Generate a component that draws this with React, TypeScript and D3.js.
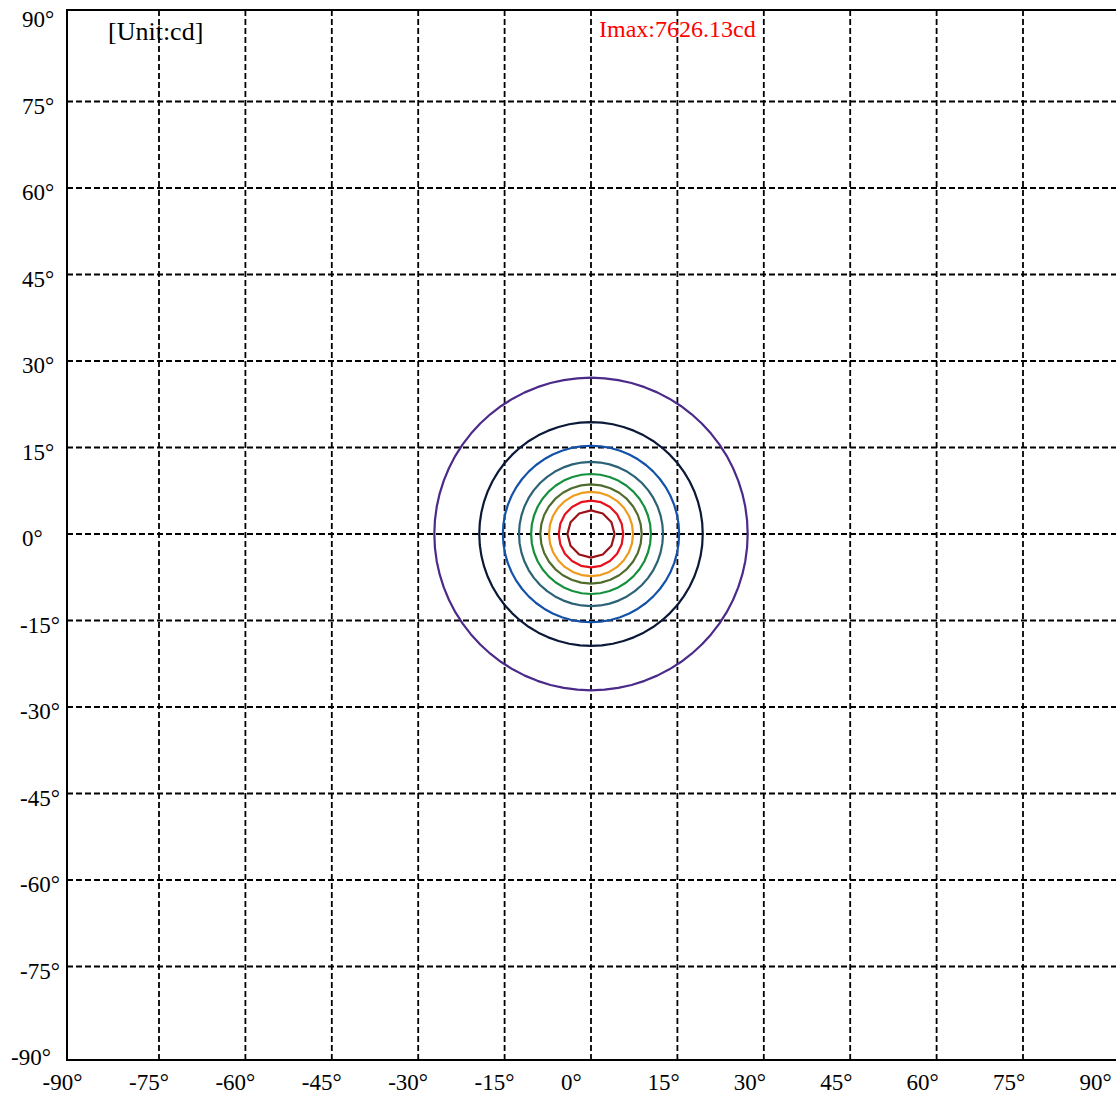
import React from "react";
import * as d3 from "d3";

// Angle ticks (degrees)
const xTicks = [-90, -75, -60, -45, -30, -15, 0, 15, 30, 45, 60, 75, 90];
const yTicks = [90, 75, 60, 45, 30, 15, 0, -15, -30, -45, -60, -75, -90];

// Iso-candela contours (outer to inner): half-widths in degrees (horizontal / vertical)
const contourNames = ["c1", "c2", "c3", "c4", "c5", "c6", "c7", "c8", "c9"];
const contourRx = [27.2, 19.4, 15.3, 12.5, 10.4, 8.8, 7.3, 5.6, 4.1];
const contourRy = [27.1, 19.4, 15.3, 12.5, 10.4, 8.6, 7.3, 5.8, 4.1];
const contourSides = [72, 64, 56, 48, 40, 32, 28, 20, 12];
const contourColors = [
  "#4b2a8a",
  "#0b1838",
  "#1352a8",
  "#2b6276",
  "#14903c",
  "#506c2c",
  "#f09a1c",
  "#e8101c",
  "#9c1018",
];

const unitLabel = "[Unit:cd]";
const imaxLabel = "Imax:7626.13cd";

const W = 1116;
const H = 1098;

export default function App() {
  const x = d3.scaleLinear().domain([-90, 90]).range([72.6, 1109.4]);
  const y = d3.scaleLinear().domain([-90, 90]).range([1053, 15]);

  const frameLeft = 67;
  const frameTop = 10;
  const frameBottom = 1060;
  const frameRight = 1122;

  const line = d3
    .line<[number, number]>()
    .x((d) => x(d[0]))
    .y((d) => y(d[1]))
    .curve(d3.curveLinearClosed);

  const contours = contourNames.map((name, i) => {
    const n = contourSides[i];
    const pts: [number, number][] = d3.range(n).map((k) => {
      const a = (k / n) * 2 * Math.PI;
      return [contourRx[i] * Math.sin(a), contourRy[i] * Math.cos(a)];
    });
    return { name, d: line(pts) || "", color: contourColors[i] };
  });

  const font = "'Liberation Serif', 'Times New Roman', serif";

  return (
    <svg
      width={W}
      height={H}
      style={{ position: "absolute", left: 0, top: 0, background: "#fff" }}
    >
      <rect x={0} y={0} width={W} height={H} fill="#fff" />
      {/* grid */}
      <g stroke="#000" strokeWidth={1.8} strokeDasharray="6,3" fill="none">
        {xTicks
          .filter((t) => t > -90 && t < 90)
          .map((t) => (
            <line key={"gx" + t} x1={x(t)} x2={x(t)} y1={frameTop} y2={frameBottom} />
          ))}
        {yTicks
          .filter((t) => t > -90 && t < 90)
          .map((t) => (
            <line key={"gy" + t} x1={frameLeft} x2={frameRight} y1={y(t)} y2={y(t)} />
          ))}
      </g>
      {/* contours */}
      <g fill="none" strokeWidth={2.2} strokeLinejoin="round">
        {contours.map((c) => (
          <path key={c.name} d={c.d} stroke={c.color} />
        ))}
      </g>
      {/* frame */}
      <path
        d={`M${frameRight},${frameTop}H${frameLeft}V${frameBottom}H${frameRight}`}
        fill="none"
        stroke="#000"
        strokeWidth={2}
      />
      {/* axis labels */}
      <g fontFamily={font} fontSize={23} fill="#000">
        {xTicks.map((t) => (
          <text key={"lx" + t} x={x(t) - 30} y={1090} textAnchor="start">
            {t + "°"}
          </text>
        ))}
        {yTicks.map((t) => (
          <text key={"ly" + t} x={t < 0 ? 11 + (t === -90 ? 0 : 9) : 22} y={y(t) + 12} textAnchor="start">
            {t + "°"}
          </text>
        ))}
      </g>
      <text x={108} y={40} fontFamily={font} fontSize={26} fill="#000">
        {unitLabel}
      </text>
      <text x={599} y={37} fontFamily={font} fontSize={24} fill="#ff0000">
        {imaxLabel}
      </text>
    </svg>
  );
}
